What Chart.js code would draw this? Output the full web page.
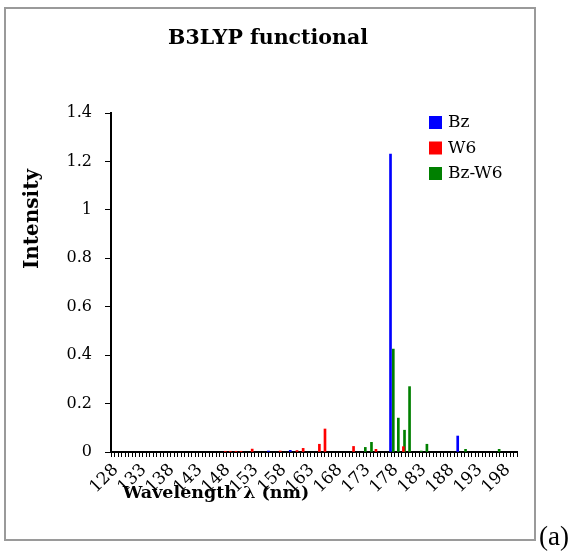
<!DOCTYPE html>
<html><head><meta charset="utf-8">
<script src="https://cdn.jsdelivr.net/npm/chart.js@4/dist/chart.umd.min.js"></script>
<style>html,body{margin:0;padding:0;background:#fff;}#wrap{width:577px;height:551px;}</style>
</head><body><div id="wrap"><canvas id="c" width="577" height="551"></canvas></div>
<script>
const chartTitle = 'B3LYP functional';
const xTitle = 'Wavelength λ (nm)';
const yTitle = 'Intensity';
const panelTag = '(a)';
const seriesNames = ['Bz', 'W6', 'Bz-W6'];
const seriesColors = ['#0000ff', '#ff0000', '#008000'];

const bzWavelengths = [155.8, 159.7, 177.6, 189.6];
const bzIntensity   = [0.004, 0.007, 1.23, 0.066];

const w6Wavelengths = [148.1, 149.0, 150.0, 150.9, 152.9, 157.9, 160.9, 162.0, 164.9, 165.9, 171.0, 175.0, 179.9];
const w6Intensity   = [0.003, 0.003, 0.003, 0.003, 0.012, 0.004, 0.006, 0.015, 0.032, 0.095, 0.023, 0.011, 0.022];

const bzw6Wavelengths = [173.1, 174.2, 178.1, 179.0, 180.1, 181.0, 183.1, 184.1, 191.0, 197.0];
const bzw6Intensity   = [0.019, 0.040, 0.425, 0.140, 0.090, 0.270, 0.004, 0.032, 0.011, 0.011];

const xTickLabels = [128, 133, 138, 143, 148, 153, 158, 163, 168, 173, 178, 183, 188, 193, 198];
const yTickLabels = ['0', '0.2', '0.4', '0.6', '0.8', '1', '1.2', '1.4'];

const catStep = 0.625;          // wavelength spacing of the category slots
const xMin = 127.6875, xMax = 200.1875;

function pts(xs, ys) { return xs.map((x, i) => ({ x: x, y: ys[i] })); }

const serif = 'DejaVu Serif';

const decor = {
  id: 'decor',
  beforeDraw(chart) {
    const c = chart.ctx;
    c.save(); c.fillStyle = '#fff'; c.fillRect(0, 0, chart.width, chart.height); c.restore();
  },
  afterDraw(chart) {
    const c = chart.ctx;
    c.save();
    // outer frame
    c.strokeStyle = '#9a9a9a'; c.lineWidth = 2;
    c.strokeRect(5, 8, 530, 532);
    // title
    c.fillStyle = '#000';
    c.font = 'bold 20.5px "' + serif + '"';
    c.textAlign = 'center'; c.textBaseline = 'middle';
    c.fillText(chartTitle, 268, 39);
    // x title
    c.font = 'bold 17.5px "' + serif + '"';
    c.fillText(xTitle, 216, 493);
    // y title
    c.save();
    c.translate(33, 219);
    c.rotate(-Math.PI / 2);
    c.font = 'bold 20px "' + serif + '"';
    c.fillText(yTitle, 0, 0);
    c.restore();
    // legend
    c.font = '17px "' + serif + '"';
    c.textAlign = 'left';
    chart.data.datasets.forEach((ds, i) => {
      const y = 116 + i * 25.5;
      c.fillStyle = ds.backgroundColor;
      c.fillRect(429, y, 13, 13);
      c.fillStyle = '#000';
      c.fillText(ds.label, 448, y + 7);
    });
    // panel tag
    c.font = '27px "Liberation Serif"';
    c.textAlign = 'left'; c.textBaseline = 'alphabetic';
    c.fillText(panelTag, 539, 545);
    c.restore();
  }
};

new Chart(document.getElementById('c'), {
  type: 'bar',
  data: {
    datasets: [
      { label: seriesNames[0], data: pts(bzWavelengths, bzIntensity), backgroundColor: seriesColors[0] },
      { label: seriesNames[1], data: pts(w6Wavelengths, w6Intensity), backgroundColor: seriesColors[1] },
      { label: seriesNames[2], data: pts(bzw6Wavelengths, bzw6Intensity), backgroundColor: seriesColors[2] }
    ]
  },
  options: {
    responsive: false,
    animation: false,
    devicePixelRatio: 1,
    layout: { padding: { top: 113, right: 60, left: 0, bottom: 0 } },
    datasets: { bar: { barThickness: 2, grouped: false } },
    plugins: { legend: { display: false }, title: { display: false }, tooltip: { enabled: false } },
    scales: {
      x: {
        type: 'linear',
        min: xMin, max: xMax,
        offset: false,
        afterBuildTicks(scale) {
          const t = [];
          for (let v = xTickLabels[0]; v <= xMax; v += catStep) t.push({ value: v });
          scale.ticks = t;
        },
        afterFit(scale) { scale.height = 99; },
        border: { display: true, color: '#000', width: 2 },
        grid: { drawOnChartArea: false, drawTicks: true, tickLength: 5, color: '#000', lineWidth: 1, offset: true },
        ticks: {
          autoSkip: false, minRotation: 45, maxRotation: 45, padding: 3, labelOffset: 3,
          color: '#000', font: { family: serif, size: 17 },
          callback(v) {
            const hit = xTickLabels.find(L => Math.abs(L - v) < 1e-6);
            return hit === undefined ? '' : String(hit);
          }
        }
      },
      y: {
        min: 0, max: 1.4,
        afterBuildTicks(scale) { scale.ticks = yTickLabels.map(s => ({ value: parseFloat(s) })); },
        afterFit(scale) { scale.width = 111; },
        border: { display: true, color: '#000', width: 2 },
        grid: { drawOnChartArea: false, drawTicks: true, tickLength: 6, color: '#000', lineWidth: 1 },
        ticks: {
          padding: 13, color: '#000', font: { family: serif, size: 16 },
          callback(v, i) { return yTickLabels[i]; }
        }
      }
    }
  },
  plugins: [decor]
});
</script>
</body></html>
